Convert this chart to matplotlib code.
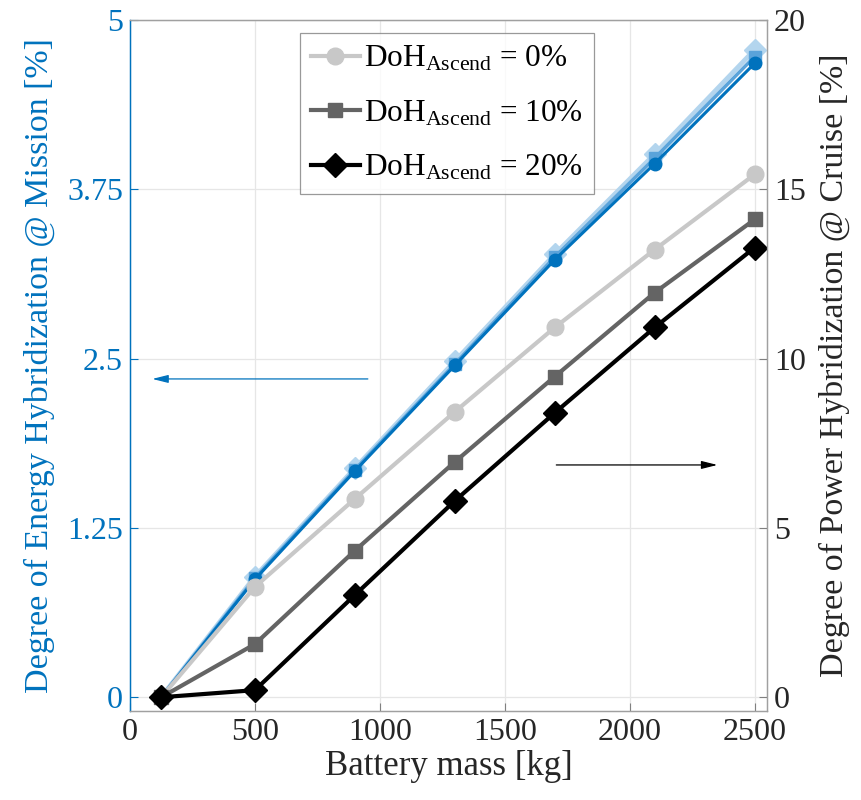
import numpy as np
import matplotlib
matplotlib.use('Agg')
import matplotlib.pyplot as plt

plt.rcParams['font.family'] = ['Liberation Serif', 'DejaVu Serif']
plt.rcParams['mathtext.fontset'] = 'custom'
plt.rcParams['mathtext.rm'] = 'Liberation Serif'
plt.rcParams['mathtext.it'] = 'Liberation Serif:italic'

# battery mass [kg]
mass = [125, 500, 900, 1300, 1700, 2100, 2500]

# degree of energy hybridization @ mission [%] (left axis)
doh_e_0 = [0, 0.87, 1.67, 2.45, 3.23, 3.94, 4.68]
doh_e_10 = [0, 0.88, 1.68, 2.46, 3.25, 3.98, 4.73]
doh_e_20 = [0, 0.89, 1.69, 2.48, 3.27, 4.01, 4.78]

# degree of power hybridization @ cruise [%] (right axis)
doh_p_0 = [0, 3.26, 5.86, 8.43, 10.92, 13.22, 15.44]
doh_p_10 = [0, 1.57, 4.33, 6.95, 9.47, 11.95, 14.11]
doh_p_20 = [0, 0.21, 3.02, 5.80, 8.40, 10.92, 13.28]

labels = [r'DoH$_{\mathrm{Ascend}}$ = 0%', r'DoH$_{\mathrm{Ascend}}$ = 10%',
          r'DoH$_{\mathrm{Ascend}}$ = 20%']

blue = '#0072BD'

fig = plt.figure(figsize=(8.61, 8.00), dpi=100)
ax = fig.add_axes([0.151, 0.111, 0.740, 0.864])
ax2 = ax.twinx()

ax.plot(mass, doh_e_20, color='#B3D5EE', lw=3.5, marker='D', ms=11, zorder=3)
ax.plot(mass, doh_e_10, color='#5AA3DA', lw=2.5, marker='s', ms=9, zorder=4)
ax.plot(mass, doh_e_0, color=blue, lw=2.2, marker='o', ms=9, zorder=5)

l0, = ax2.plot(mass, doh_p_0, color='#C8C8C8', lw=3, marker='o', ms=12)
l1, = ax2.plot(mass, doh_p_10, color='#646464', lw=3, marker='s', ms=10.5)
l2, = ax2.plot(mass, doh_p_20, color='black', lw=3, marker='D', ms=12)

ax.set_xlim(0, 2550)
ax.set_ylim(-0.103, 5)
ax2.set_ylim(-0.412, 20)
ax.set_xticks([0, 500, 1000, 1500, 2000, 2500])
ax.set_yticks([0, 1.25, 2.5, 3.75, 5])
ax.set_yticklabels(['0', '1.25', '2.5', '3.75', '5'])
ax2.set_yticks([0, 5, 10, 15, 20])

ax.grid(True, color='#E6E6E6', lw=0.9)
ax.set_axisbelow(True)

ax.tick_params(axis='both', direction='in', labelsize=23, length=6, pad=5)
ax.tick_params(axis='y', colors=blue, labelcolor=blue)
ax.tick_params(axis='x', colors='#808080', labelcolor='#262626')
ax2.tick_params(axis='y', direction='in', labelsize=23, length=6, pad=5,
                colors='#808080', labelcolor='#262626')

for a in (ax, ax2):
    for s in a.spines.values():
        s.set_color('#A0A0A0')
        s.set_linewidth(0.9)
ax.spines['left'].set_color(blue)
ax2.spines['left'].set_color(blue)

ax.set_xlabel('Battery mass [kg]', fontsize=25, color='#262626', labelpad=2)
ax.set_ylabel('Degree of Energy Hybridization @ Mission [%]', fontsize=24.5,
              color=blue, labelpad=9)
ax2.set_ylabel('Degree of Power Hybridization @ Cruise [%]', fontsize=24.5,
               color='#262626', labelpad=9)

ax.annotate('', xy=(78, 2.35), xytext=(963, 2.35),
            arrowprops=dict(arrowstyle='-|>,head_length=0.8,head_width=0.2',
                            color=blue, lw=0.9, mutation_scale=12))
ax2.annotate('', xy=(2362, 6.86), xytext=(1695, 6.86),
             arrowprops=dict(arrowstyle='-|>,head_length=0.8,head_width=0.2',
                             color='black', lw=0.9, mutation_scale=12))

leg = ax2.legend([l0, l1, l2], labels, loc='upper left',
                 bbox_to_anchor=(0.267, 0.981), fontsize=22.5, frameon=True,
                 fancybox=False, edgecolor='#808080', handlelength=1.55,
                 handletextpad=0.15, borderpad=0.35, labelspacing=0.8,
                 borderaxespad=0)
leg.get_frame().set_linewidth(0.9)

fig.savefig('out.png', dpi=100)
